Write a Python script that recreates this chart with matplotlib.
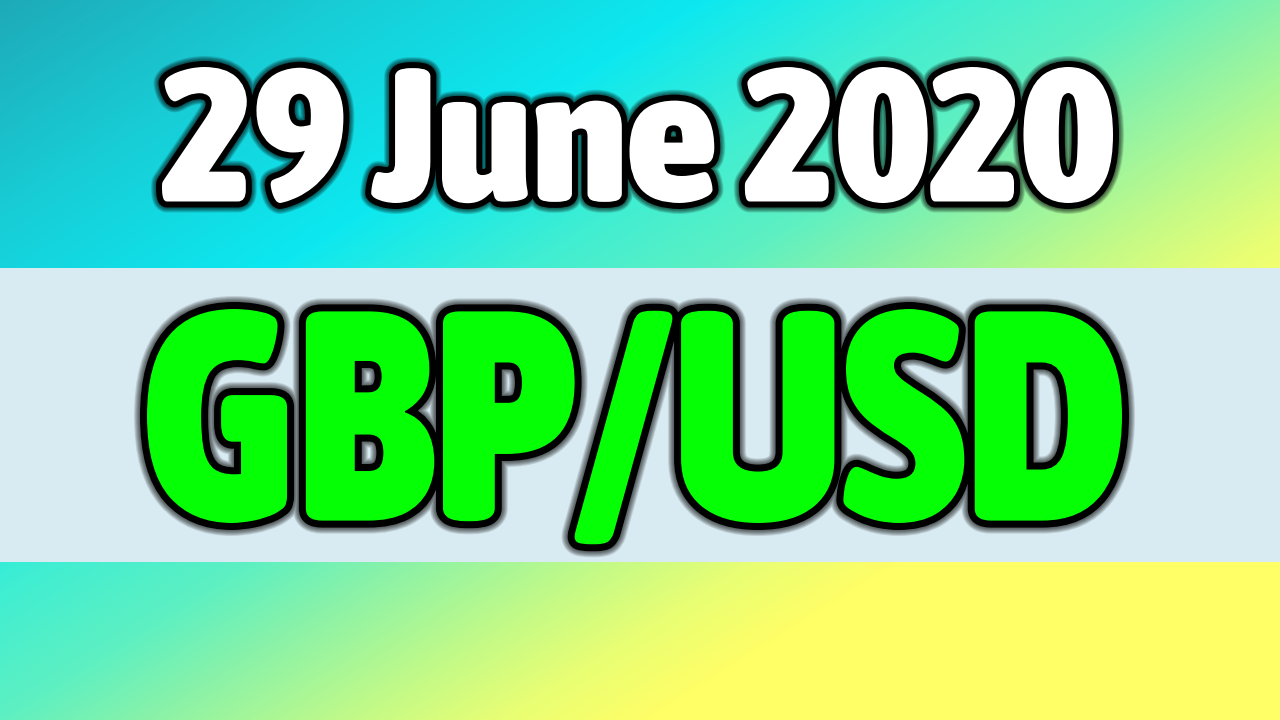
import numpy as np
import matplotlib
matplotlib.use("Agg")
import matplotlib.pyplot as plt
import matplotlib.patheffects as pe
from matplotlib import font_manager
from matplotlib.textpath import TextPath
from matplotlib.font_manager import FontProperties
from matplotlib.transforms import Affine2D

# ---------------------------------------------------------------- content
TITLE_DATE = "29 June 2020"
TITLE_PAIR = "GBP/USD"

# background gradient (position along x + 1.6*y, colour)
GRAD_POS = [0, 350, 700, 950, 1150, 1300, 1500, 1650, 1800]
GRAD_COL = ["#1eaab8", "#18cdd6", "#0ce8f0", "#40eed2", "#5ef0c2",
            "#8af2a8", "#c2fa88", "#e8fe74", "#ffff66"]
BAND_COL = "#d8ebf2"

W, H, DPI = 1280, 720, 100


def weight_num(w):
    if isinstance(w, str):
        return font_manager.weight_dict.get(w, 400)
    return w


def pick_font():
    # heavy condensed face if there is one, else the heaviest sans available
    fl = font_manager.fontManager.ttflist
    heavy = [f for f in fl if weight_num(f.weight) >= 700 and f.style == "normal"]
    narrow = [f for f in heavy if f.stretch in ("condensed", "semi-condensed", "extra-condensed")
              or "Condensed" in f.fname or "Narrow" in f.fname]
    if narrow:
        return max(narrow, key=lambda f: weight_num(f.weight)).fname
    for fam in ["Roboto", "Lato", "Open Sans", "Noto Sans"]:
        c = [f for f in heavy if f.name == fam]
        if c:
            return max(c, key=lambda f: weight_num(f.weight)).fname
    return font_manager.findfont(FontProperties(family="DejaVu Sans", weight="bold"))


FP = FontProperties(fname=pick_font())


def px2pt(v):
    return v * 72.0 / DPI


class SqueezeStroke(pe.Stroke):
    # stroke / fill that also compresses the glyphs horizontally around cx
    def __init__(self, cx, sx, **kw):
        super().__init__(**kw)
        self.squeeze = Affine2D().translate(-cx, 0).scale(sx, 1).translate(cx, 0)

    def draw_path(self, renderer, gc, tpath, affine, rgbFace):
        gc0 = renderer.new_gc()
        gc0.copy_properties(gc)
        gc0 = self._update_gc(gc0, self._gc)
        renderer.draw_path(gc0, tpath, affine + self.squeeze, rgbFace)
        gc0.restore()


def big_text(ax, s, ref, box, color, outline, glow):
    x0, y0, x1, y1 = box
    ext = TextPath((0, 0), s, size=100, prop=FP).get_extents()
    ext_h = TextPath((0, 0), ref, size=100, prop=FP).get_extents()
    k = (y1 - y0) / ext_h.height
    sx = (x1 - x0) / (ext.width * k)
    cx = (x0 + x1) / 2
    x = cx - (ext.x0 + ext.x1) / 2 * k
    base = y1 + ext_h.y0 * k
    effects = []
    n = 6
    for i in range(n, 0, -1):
        effects.append(SqueezeStroke(cx, sx, linewidth=px2pt(2 * outline + 2 * glow * i / n),
                                     foreground="black", alpha=0.13))
    effects.append(SqueezeStroke(cx, sx, linewidth=px2pt(2 * outline), foreground="black"))
    effects.append(SqueezeStroke(cx, sx))
    ax.text(x, base, s, fontproperties=FP, fontsize=px2pt(100 * k), color=color,
            ha="left", va="baseline", path_effects=effects)


fig = plt.figure(figsize=(W / DPI, H / DPI), dpi=DPI)
ax = fig.add_axes([0, 0, 1, 1])
ax.set_xlim(0, W)
ax.set_ylim(H, 0)
ax.axis("off")

yy, xx = np.mgrid[0:H, 0:W]
t = xx + 1.6 * yy
rgb = np.array([matplotlib.colors.to_rgb(c) for c in GRAD_COL])
img = np.dstack([np.interp(t, GRAD_POS, rgb[:, j]) for j in range(3)])
ax.imshow(img, extent=(0, W, H, 0), aspect="auto", zorder=0)

ax.axhspan(268, 562, color=BAND_COL, zorder=1, linewidth=0)

big_text(ax, TITLE_DATE, "2020", (162, 67, 1113, 203), "white", 6, 5)
big_text(ax, TITLE_PAIR, "GBUSD", (147, 309, 1122, 523), "#05ff05", 7, 6)

fig.savefig("out.png", dpi=DPI)
